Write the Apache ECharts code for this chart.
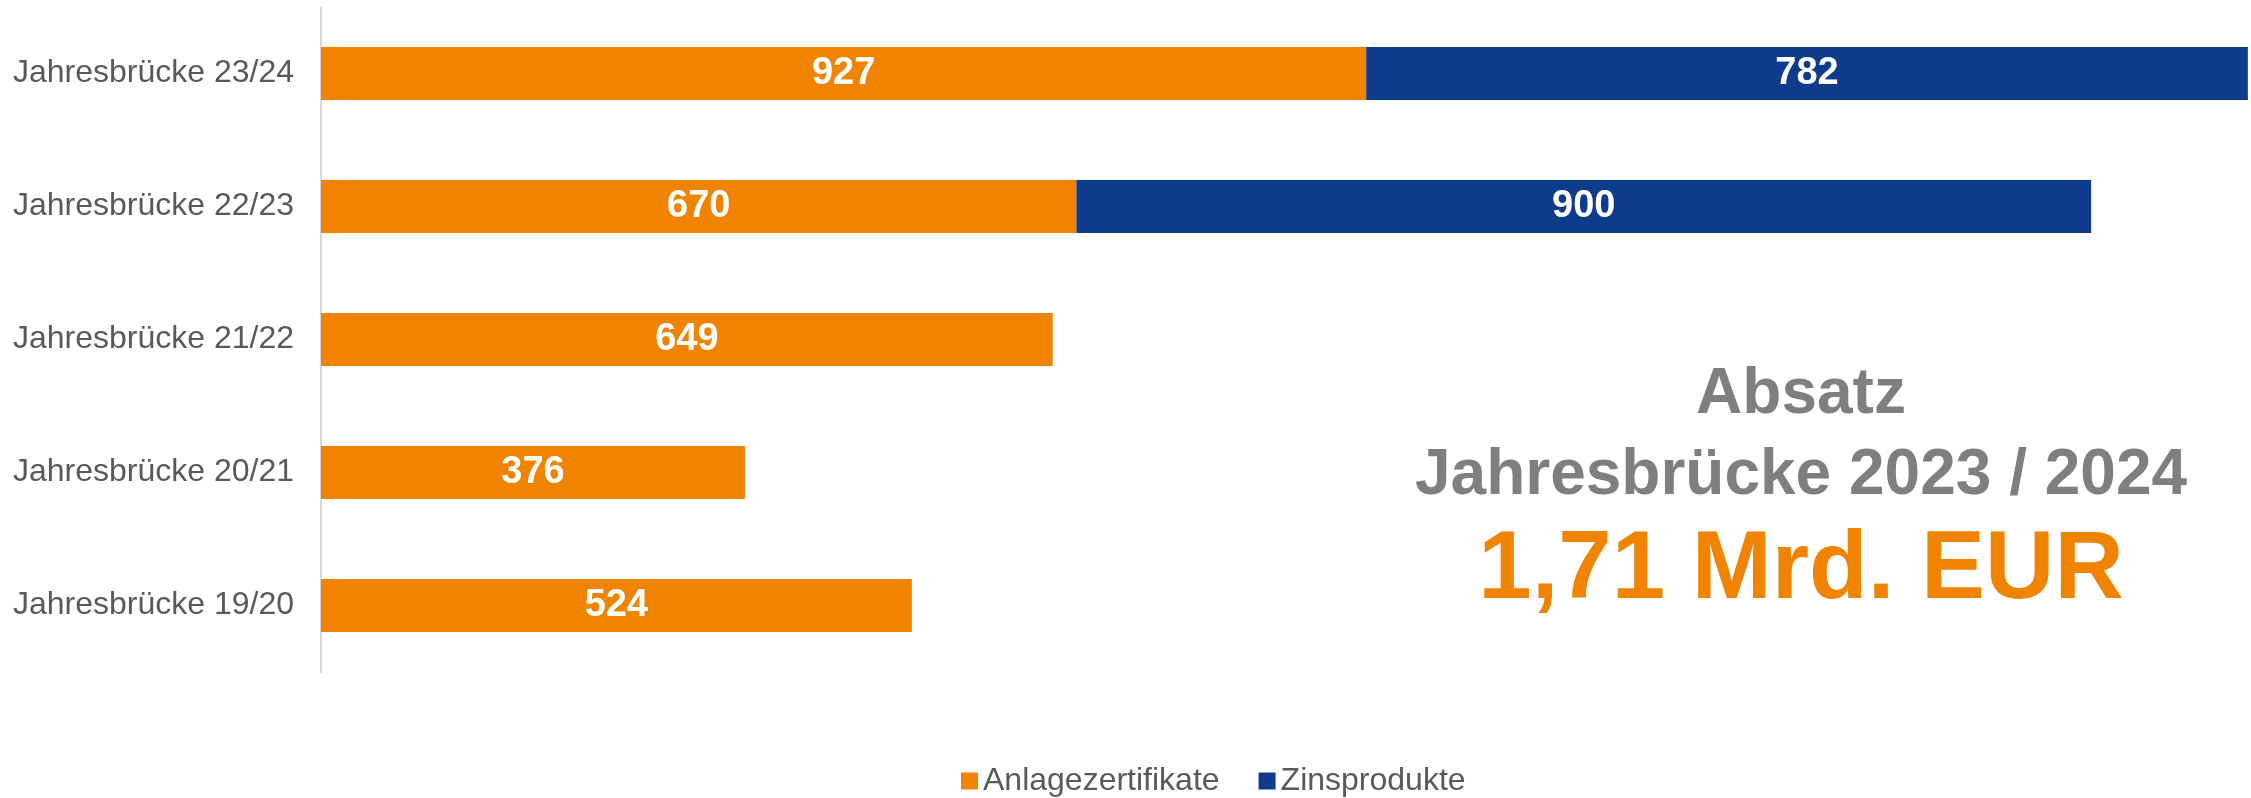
<!DOCTYPE html>
<html>
<head>
<meta charset="utf-8">
<script src="https://cdn.jsdelivr.net/npm/echarts@6/dist/echarts.min.js"></script>
<style>
    html, body { margin: 0; padding: 0; background: #fff; }
    #chart { width: 2251px; height: 798px; }
</style>
</head>
<body>
<div id="chart"></div>
<script>
// top to bottom, as in the picture
const categories = ['Jahresbrücke 23/24', 'Jahresbrücke 22/23', 'Jahresbrücke 21/22', 'Jahresbrücke 20/21', 'Jahresbrücke 19/20']
const anlagezertifikate = [927, 670, 649, 376, 524]
const zinsprodukte = [782, 900, null, null, null]
const seriesNames = ['Anlagezertifikate', 'Zinsprodukte']
const headline = ['Absatz', 'Jahresbrücke 2023 / 2024', '1,71 Mrd. EUR']

const FONT = '"Liberation Sans", Arial, sans-serif'
const ORANGE = '#F08300'
const BLUE = '#0E3B8B'

const chart = echarts.init(document.getElementById('chart'))

function barLabel() {
    return {
        show: true,
        position: 'inside',
        color: '#fff',
        fontWeight: 'bold',
        fontSize: 38,
        fontFamily: FONT
    }
}

chart.setOption({
    animation: false,
    grid: { left: 321, right: 2, top: 7, height: 665, containLabel: false },
    legend: {
        data: seriesNames,
        left: 956,
        top: 760,
        icon: 'rect',
        itemWidth: 17,
        itemHeight: 17,
        itemGap: 39,
        textStyle: { fontSize: 32, color: '#595959', fontFamily: FONT }
    },
    xAxis: {
        type: 'value',
        min: 0,
        max: 1710,
        show: false
    },
    yAxis: {
        type: 'category',
        data: categories,
        inverse: true,
        axisLine: { show: true, lineStyle: { color: '#D9D9D9', width: 2 } },
        axisTick: { show: false },
        axisLabel: { margin: 27, fontSize: 32, color: '#595959', fontFamily: FONT }
    },
    series: [
        {
            name: seriesNames[0],
            type: 'bar',
            stack: 'total',
            barWidth: 53,
            itemStyle: { color: ORANGE },
            label: barLabel(),
            data: anlagezertifikate
        },
        {
            name: seriesNames[1],
            type: 'bar',
            stack: 'total',
            barWidth: 53,
            itemStyle: { color: BLUE },
            label: barLabel(),
            data: zinsprodukte
        }
    ],
    graphic: [
        {
            type: 'text',
            x: 1801,
            y: 395,
            style: { text: headline[0], align: 'center', verticalAlign: 'middle', fill: '#7F7F7F', font: 'bold 64px ' + FONT }
        },
        {
            type: 'text',
            x: 1801,
            y: 476,
            style: { text: headline[1], align: 'center', verticalAlign: 'middle', fill: '#7F7F7F', font: 'bold 64px ' + FONT }
        },
        {
            type: 'text',
            x: 1801,
            y: 572,
            style: { text: headline[2], align: 'center', verticalAlign: 'middle', fill: ORANGE, font: 'bold 96px ' + FONT }
        }
    ]
})
</script>
</body>
</html>
